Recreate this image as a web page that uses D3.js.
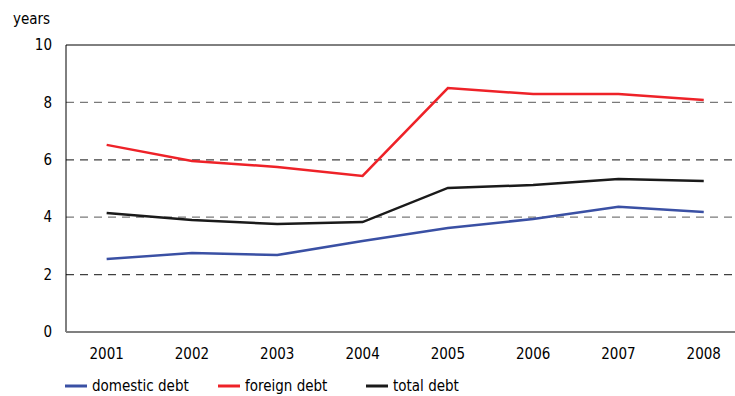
<!DOCTYPE html>
<html>
<head>
<meta charset="utf-8">
<script src="https://cdn.jsdelivr.net/npm/d3@7"></script>
<style>
  body { margin: 0; background: #fff; }
  text { font-family: "DejaVu Sans Condensed", "DejaVu Sans", sans-serif; font-size: 15px; fill: #000; }
</style>
</head>
<body>
<div id="chart"></div>
<script>
// data
var years = ["2001", "2002", "2003", "2004", "2005", "2006", "2007", "2008"];
var domesticDebt = [2.54, 2.75, 2.68, 3.17, 3.62, 3.94, 4.36, 4.18];
var foreignDebt = [6.52, 5.96, 5.75, 5.44, 8.50, 8.29, 8.29, 8.08];
var totalDebt = [4.15, 3.90, 3.76, 3.83, 5.02, 5.12, 5.33, 5.26];
var yTicks = [0, 2, 4, 6, 8, 10];
var seriesNames = ["domestic debt", "foreign debt", "total debt"];
var seriesColors = ["#3a50a4", "#ee2228", "#1a1a1a"];

var width = 735, height = 396;
var margin = {top: 45, left: 66, bottom: 64};

var svg = d3.select("#chart").append("svg")
    .attr("width", width)
    .attr("height", height);

// plot runs a bit past the right edge of the picture
var x = d3.scaleBand()
    .domain(years)
    .range([margin.left, margin.left + 8 * 85.3]);

var y = d3.scaleLinear()
    .domain([0, 10])
    .range([height - margin.bottom, margin.top]);

// dashed gridlines
svg.append("g").selectAll("line")
    .data(yTicks.filter(function(d) { return d > 0 && d < 10; }))
    .enter().append("line")
    .attr("x1", margin.left)
    .attr("x2", width)
    .attr("y1", function(d) { return y(d); })
    .attr("y2", function(d) { return y(d); })
    .attr("stroke", function(d) { return d % 4 === 0 ? "#7a7a7a" : "#404040"; })
    .attr("stroke-width", 1.2)
    .attr("stroke-dasharray", "8,6");

// frame: top and left black, bottom gray
svg.append("line")
    .attr("x1", margin.left).attr("x2", width)
    .attr("y1", y(10)).attr("y2", y(10))
    .attr("stroke", "#000").attr("stroke-width", 1);
svg.append("line")
    .attr("x1", margin.left).attr("x2", margin.left)
    .attr("y1", y(10)).attr("y2", y(0))
    .attr("stroke", "#000").attr("stroke-width", 1);
svg.append("line")
    .attr("x1", margin.left).attr("x2", width)
    .attr("y1", y(0)).attr("y2", y(0))
    .attr("stroke", "#808080").attr("stroke-width", 2);

// y labels
svg.append("g").selectAll("text")
    .data(yTicks)
    .enter().append("text")
    .attr("x", margin.left - 14)
    .attr("y", function(d) { return y(d); })
    .attr("dy", "0.35em")
    .attr("text-anchor", "end")
    .text(function(d) { return d; });

svg.append("text")
    .attr("x", 13)
    .attr("y", 24)
    .text("years");

// x labels
svg.append("g").selectAll("text")
    .data(years)
    .enter().append("text")
    .attr("x", function(d) { return x(d) + x.bandwidth() / 2 - 2; })
    .attr("y", y(0) + 27)
    .attr("text-anchor", "middle")
    .text(function(d) { return d; });

// series lines
var line = d3.line()
    .x(function(d, i) { return x(years[i]) + x.bandwidth() / 2 - 2; })
    .y(function(d) { return y(d); });

[domesticDebt, foreignDebt, totalDebt].forEach(function(values, i) {
    svg.append("path")
        .attr("d", line(values))
        .attr("fill", "none")
        .attr("stroke", seriesColors[i])
        .attr("stroke-width", 2.5);
});

// legend
var legendX = [65, 218, 366];
var legend = svg.append("g").selectAll("g")
    .data(seriesNames)
    .enter().append("g")
    .attr("transform", function(d, i) { return "translate(" + legendX[i] + ",386)"; });

legend.append("line")
    .attr("x1", 0).attr("x2", 22)
    .attr("y1", 0).attr("y2", 0)
    .attr("stroke", function(d, i) { return seriesColors[i]; })
    .attr("stroke-width", 3);

legend.append("text")
    .attr("x", 27)
    .attr("y", 0)
    .attr("dy", "0.3em")
    .text(function(d) { return d; });
</script>
</body>
</html>
